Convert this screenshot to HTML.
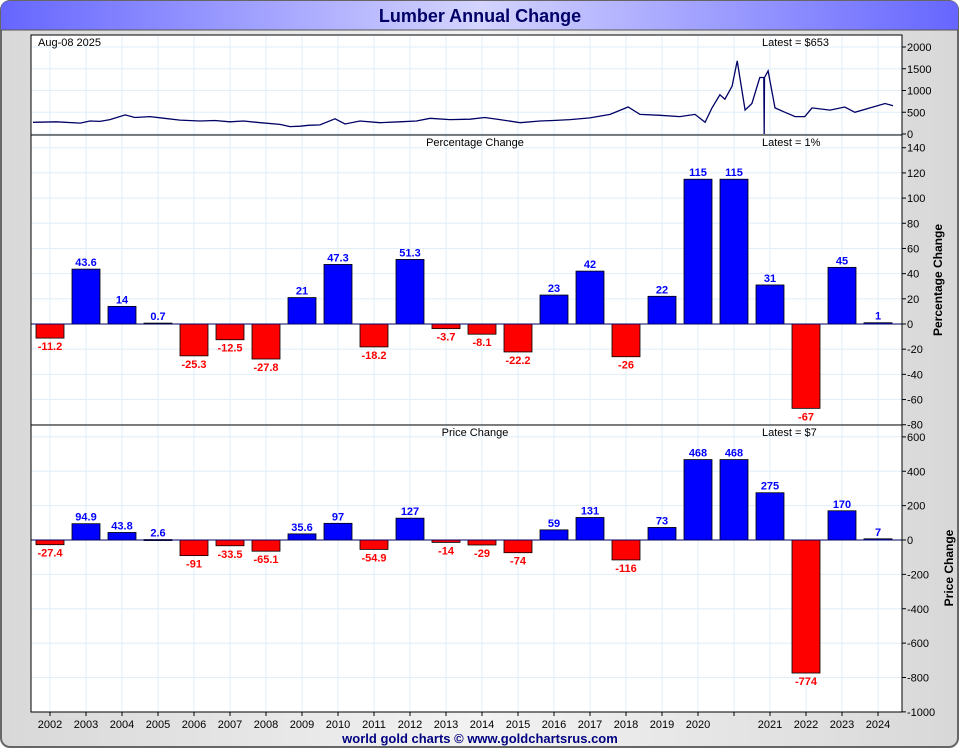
<!DOCTYPE html>
<html><head><meta charset="utf-8"><style>
html,body{margin:0;padding:0;background:#fff}
svg text{font-family:"Liberation Sans",sans-serif}
</style></head><body>
<svg id="c" width="960" height="750" xmlns="http://www.w3.org/2000/svg">
<defs>
<linearGradient id="tg" x1="0" x2="1" y1="0" y2="0">
<stop offset="0" stop-color="#6666ff"/><stop offset="0.5" stop-color="#d4d4ff"/><stop offset="1" stop-color="#6666ff"/>
</linearGradient>
<linearGradient id="bg" x1="0" x2="1"><stop offset="0" stop-color="#d8d8d8"/><stop offset="0.5" stop-color="#f2f2f2"/><stop offset="1" stop-color="#d8d8d8"/></linearGradient>
</defs>
<rect x="1" y="1" width="957" height="746" rx="9" fill="url(#bg)" stroke="#666" stroke-width="2"/>
<path d="M1,30 L1,10 Q1,1 10,1 L949,1 Q958,1 958,10 L958,30 Z" fill="url(#tg)"/>
<line x1="1" y1="30" x2="958" y2="30" stroke="#555"/>
<text x="480" y="22" text-anchor="middle" font-size="18" font-weight="bold" fill="#000066">Lumber Annual Change</text>
<rect x="31" y="35" width="871" height="677" fill="#fff"/>
<g id="grid"></g>
<g id="marks"></g>
<rect x="31" y="35" width="871" height="677" fill="none" stroke="#000"/>
<line x1="31" y1="135" x2="902" y2="135" stroke="#000"/>
<line x1="31" y1="425" x2="902" y2="425" stroke="#000"/>
<text x="38" y="46" font-size="11">Aug-08  2025</text>
<text x="762" y="46" font-size="11">Latest = $653</text>
<text x="475" y="146" text-anchor="middle" font-size="11">Percentage Change</text>
<text x="762" y="146" font-size="11">Latest = 1%</text>
<text x="475" y="436" text-anchor="middle" font-size="11">Price Change</text>
<text x="762" y="436" font-size="11">Latest = $7</text>
<text transform="translate(942,280) rotate(-90)" text-anchor="middle" font-size="12" font-weight="bold">Percentage Change</text>
<text transform="translate(953,568) rotate(-90)" text-anchor="middle" font-size="12" font-weight="bold">Price Change</text>
<text x="480" y="743" text-anchor="middle" font-size="13" font-weight="bold" fill="#000080">world gold charts © www.goldchartsrus.com</text>
</svg>
<script>
const yearLabels=["2002","2003","2004","2005","2006","2007","2008","2009","2010","2011","2012","2013","2014","2015","2016","2017","2018","2019","2020","","2021","2022","2023","2024"];
const pctValues=[-11.2,43.6,14,0.7,-25.3,-12.5,-27.8,21,47.3,-18.2,51.3,-3.7,-8.1,-22.2,23,42,-26,22,115,115,31,-67,45,1];
const priceValues=[-27.4,94.9,43.8,2.6,-91,-33.5,-65.1,35.6,97,-54.9,127,-14,-29,-74,59,131,-116,73,468,468,275,-774,170,7];
const pctTicks=[140,120,100,80,60,40,20,0,-20,-40,-60,-80];
const priceTicks=[600,400,200,0,-200,-400,-600,-800,-1000];
const lineTicks=[2000,1500,1000,500,0];
const lineDates=[2001.55,2002.2,2002.86,2003.13,2003.41,2003.69,2004.11,2004.38,2004.8,2005.2,2005.63,2006.19,2006.6,2007.02,2007.4,2007.86,2008.41,2008.69,2008.97,2009.2,2009.52,2009.94,2010.22,2010.63,2011.19,2011.74,2012.2,2012.58,2013.13,2013.69,2014.1,2014.52,2015.08,2015.63,2016.0,2016.47,2017.02,2017.58,2018.08,2018.41,2018.97,2019.52,2019.94,2020.22,2020.41,2020.63,2020.77,2020.97,2021.11,2021.33,2021.52,2021.74,2021.85,2021.86,2021.87,2021.97,2022.16,2022.44,2022.72,2022.99,2023.19,2023.69,2024.1,2024.38,2024.8,2025.22,2025.44];
const lineValues=[270,280,250,300,290,330,440,380,400,360,320,300,310,280,300,260,220,170,180,200,210,350,230,300,260,280,300,360,330,340,380,330,260,300,310,330,370,450,620,450,430,400,450,270,600,900,800,1100,1680,550,700,1300,1300,0,1300,1450,600,500,400,400,600,550,620,500,600,700,650];
const NS='http://www.w3.org/2000/svg';
const G=document.getElementById('grid'),M=document.getElementById('marks');
function mk(t,a,p){const e=document.createElementNS(NS,t);for(const k in a)e.setAttribute(k,a[k]);(p||M).appendChild(e);return e;}
const X0=31,X1=902;
const slotX=i=>50+36*i;
const yearX=y=>33+(y-2001.55)*36;
const yLine=v=>134-v*(87/2000);
const yPct=v=>324-v*(277/220);
const yPrice=v=>540-v*(275/1600);
// vertical grid
for(let i=0;i<yearLabels.length;i++){
  const x=slotX(i);
  const g=mk('line',{x1:x,x2:x,y1:36,y2:711,stroke:'#dfeef8'},G);
  
  
  if(yearLabels[i]){
    const t=mk('text',{x:x,y:728,'text-anchor':'middle','font-size':11});
    t.textContent=yearLabels[i];
    
    
  }
  mk('line',{x1:x,x2:x,y1:712,y2:716,stroke:'#000'});
}
function yAxis(ticks,f){
  ticks.forEach(v=>{
    const y=f(v);
    const g=mk('line',{x1:X0,x2:X1,y1:y,y2:y,stroke:'#dfeef8'},G);
    
    
    mk('line',{x1:X1,x2:X1+4,y1:y,y2:y,stroke:'#000'});
    const t=mk('text',{x:X1+5,y:y+4,'font-size':11});
    t.textContent=v;
    
    
  });
}
yAxis(lineTicks,yLine);yAxis(pctTicks,yPct);yAxis(priceTicks,yPrice);
// price line
let d='';lineDates.forEach((t,i)=>{d+=(i?'L':'M')+yearX(t).toFixed(1)+','+yLine(lineValues[i]).toFixed(1);});
const pl=mk('path',{d:d,fill:'none',stroke:'#000066','stroke-width':1.3});


function bars(vals,f,name,labelFmt){
  vals.forEach((v,i)=>{
    const x=slotX(i)-14,y0=f(0),y=f(v);
    const r=mk('rect',{x:x,y:Math.min(y,y0),width:28,height:Math.max(1,Math.abs(y-y0)),fill:v>=0?'#0000ff':'#ff0000',stroke:'#000','stroke-width':0.8});
    
    
    const t=mk('text',{x:slotX(i),y:v>=0?y-3:y+12,'text-anchor':'middle','font-size':11,'font-weight':'bold',fill:v>=0?'#0000ff':'#ff0000'});
    t.textContent=v;
    
    
  });
  const z=mk('line',{x1:X0,x2:X1,y1:f(0),y2:f(0),stroke:'#000066','stroke-width':1});
  
  
}
bars(pctValues,yPct,'pct');
bars(priceValues,yPrice,'price');
</script>
</body></html>
